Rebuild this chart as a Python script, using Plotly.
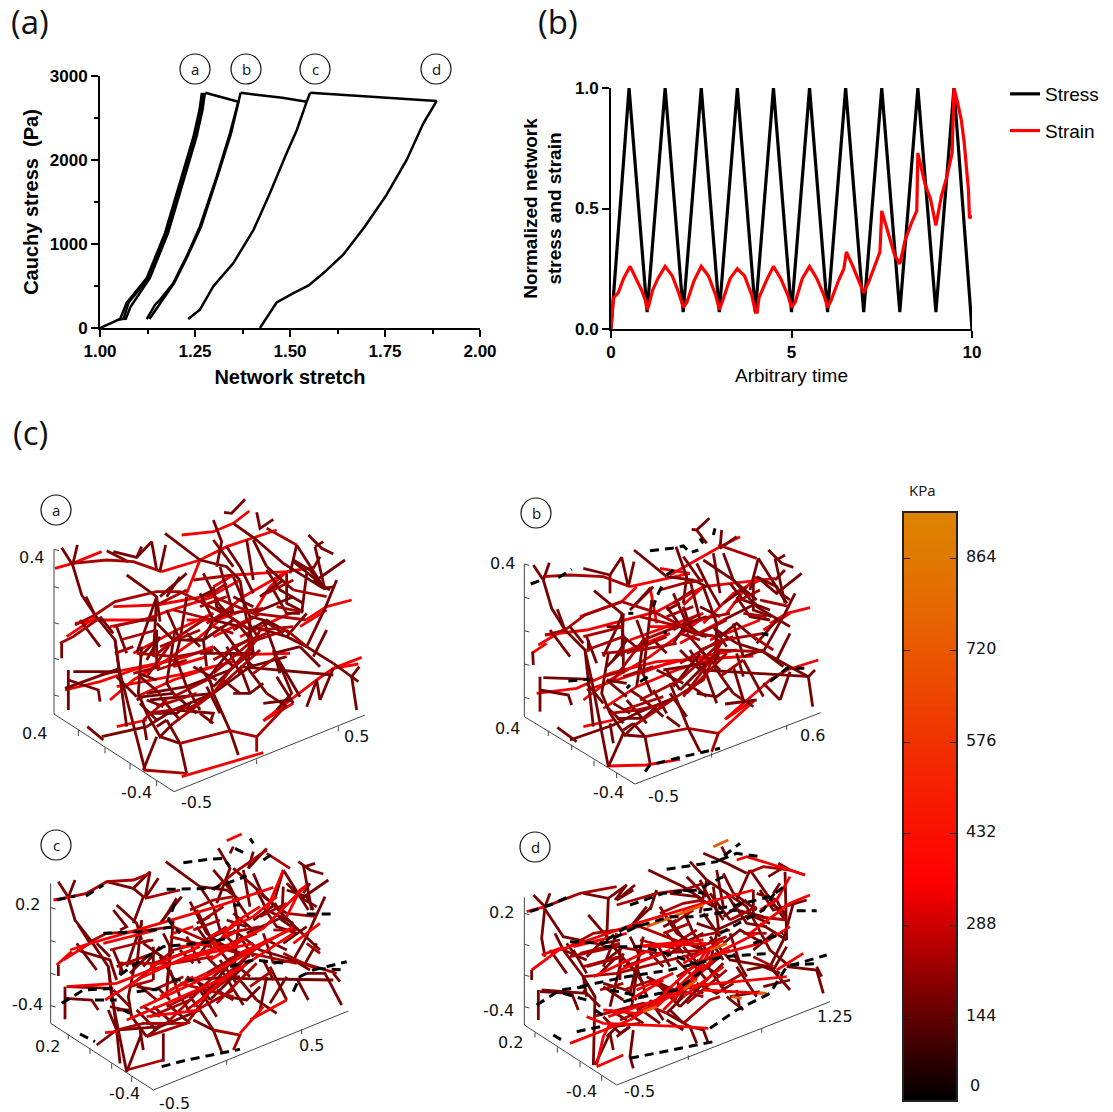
import numpy as np
import plotly.graph_objects as go

W, H = 1113, 1112
# ---------- panel (a) values ----------
A_UP_X = [1.0, 1.053, 1.07, 1.123, 1.171, 1.21, 1.246, 1.262, 1.268]
A_UP_Y = [0, 107, 300, 594, 1129, 1724, 2278, 2600, 2800]
A_MID_X = [1.05, 1.062, 1.075, 1.127, 1.175, 1.214, 1.25, 1.266, 1.272]
A_MID_Y = [100, 110, 300, 590, 1125, 1720, 2275, 2600, 2800]
A_DOWN_X = [1.276, 1.27, 1.254, 1.218, 1.179, 1.131, 1.08, 1.068, 1.055]
A_DOWN_Y = [2800, 2600, 2278, 1724, 1129, 594, 250, 110, 107]
HOLD1_X = [1.277, 1.33, 1.364]
HOLD1_Y = [2800, 2730, 2694]
B_X = [1.364, 1.342, 1.307, 1.263, 1.228, 1.193, 1.158, 1.145, 1.123]
B_Y = [2694, 2318, 1803, 1209, 852, 535, 337, 277, 107]
B2_X = [1.13, 1.15, 1.162, 1.195, 1.23, 1.266, 1.309, 1.345, 1.37]
B2_Y = [107, 240, 330, 535, 852, 1209, 1803, 2318, 2800]
HOLD2_X = [1.37, 1.48, 1.544]
HOLD2_Y = [2800, 2740, 2694]
C_X = [1.544, 1.518, 1.491, 1.447, 1.404, 1.351, 1.298, 1.263, 1.232]
C_Y = [2694, 2358, 2081, 1605, 1169, 773, 495, 218, 107]
C2_X = [1.544, 1.553]
C2_Y = [2694, 2800]
HOLD3_X = [1.553, 1.886]
HOLD3_Y = [2800, 2703]
D_X = [1.886, 1.851, 1.807, 1.754, 1.697, 1.64, 1.588, 1.549, 1.509, 1.465, 1.421]
D_Y = [2703, 2437, 2001, 1585, 1209, 872, 654, 507, 416, 305, 0]

# ---------- panel (b) values ----------
STRESS_T = [0, .5, 1, 1.5, 2, 2.5, 3, 3.5, 4, 4.5, 5, 5.5, 6, 6.5, 7, 7.5, 8, 8.5, 9, 9.5, 10]
STRESS_V = [0, 1, .07, 1, .07, 1, .07, 1, .07, 1, .07, 1, .07, 1, .07, 1, .07, 1, .07, 1, 0]
STRAIN_T = [0, .07, .2, .35, .53, .7, .85, .95, 1, 1.05, 1.15, 1.3, 1.5, 1.7, 1.9, 2, 2.1, 2.3, 2.5, 2.7, 2.9, 3, 3.1, 3.3, 3.5, 3.7, 3.9, 4, 4.05, 4.1, 4.3, 4.5, 4.7, 4.9, 5, 5.1, 5.3, 5.5, 5.7, 5.9, 6, 6.1, 6.3, 6.45, 6.52, 6.7, 6.9, 7, 7.15, 7.3, 7.45, 7.5, 7.7, 7.85, 8, 8.15, 8.35, 8.47, 8.5, 8.7, 8.85, 9, 9.15, 9.3, 9.45, 9.5, 9.6, 9.7, 9.78, 9.85, 9.9, 9.93, 10]
STRAIN_V = [0, .13, .15, .21, .26, .21, .16, .12, .08, .1, .16, .21, .26, .22, .14, .09, .11, .2, .26, .22, .14, .08, .12, .21, .25, .22, .14, .07, .07, .13, .2, .26, .21, .14, .09, .11, .21, .26, .21, .14, .09, .12, .2, .25, .32, .26, .19, .15, .2, .26, .32, .49, .39, .31, .27, .37, .45, .49, .73, .6, .54, .43, .55, .63, .73, 1, .94, .87, .78, .68, .58, .46, .47]

# ---------- panel (c) projected networks, in picture units of each sub-panel ----------
NA_DARK = [[185,203,218,255,232,195],[218,255,245,345,285,405,345,480,380,740],[345,480,358,570,435,870],[258,350,285,405],[320,212,385,245],[340,215,410,232,455,185,470,270],[410,232,425,200],[497,195,480,272],[495,160,600,240],[380,285,470,350,480,425],[735,58,695,100,672,97],[640,120,665,185,650,260],[770,97,780,145,820,118],[700,130,770,180,850,250,970,325],[925,165,965,205,1000,222],[945,200,970,185],[890,195,970,320],[945,200,975,330],[1035,240,950,300,880,245],[890,195,870,280],[1010,300,975,385,920,500,1000,550],[920,500,860,470,760,440],[1000,550,1055,590,1070,690],[1055,590,1075,605],[1055,590,1078,560],[1000,565,960,660],[970,325,1005,320],[920,280,905,400],[830,530,875,640,830,690],[700,290,750,410,745,560],[720,300,740,420],[610,280,655,370,690,410,750,450,760,520],[750,450,800,420,870,460],[205,570,205,690],[205,600,295,630,300,665],[185,490,185,535],[220,575,355,575],[195,625,360,565],[425,500,415,640,440,700,480,770,520,730],[470,350,460,530],[525,450,500,610],[480,770,540,790,560,880],[690,752,715,825],[690,752,640,640,630,600],[430,870,470,770],[262,740,310,780],[305,770,440,740,520,690,640,640],[640,640,750,560,860,530],[750,640,720,560],[790,670,870,660],[830,590,880,670],[720,560,1000,585],[530,690,640,700,630,730],[560,480,610,480,620,560],[610,480,700,420],[520,480,610,480],[450,660,640,640],[440,640,560,620,690,570],[410,660,430,650,520,640],[920,680,950,600,960,660],[600,520,760,520],
 [640,320,650,380,690,410],[660,260,700,400],[600,340,640,420,720,440],[720,440,745,470,760,520],[750,410,790,420,850,460],[560,350,540,480,520,560],[470,430,520,480],[470,350,410,520],[610,480,640,420],[640,420,700,390],[820,330,860,400,900,400],[860,280,860,370,910,395],[800,270,840,330,910,370],[940,300,990,330],[640,180,700,260],[600,240,680,260,720,300],[540,290,500,350],[560,280,480,350],[760,400,880,350],[780,350,850,300],[620,620,660,700],[700,640,750,640,790,610],[670,600,720,640],[820,510,840,580],[580,560,650,600],[500,610,520,640],[530,540,560,620],[350,590,410,650],[420,590,480,640],[440,540,480,470],[470,560,470,450],[415,580,470,600],[440,660,490,680],[420,670,470,720],[445,700,530,700,570,670],[470,740,500,720],[680,500,720,580],[700,500,760,560],[600,560,640,620],[620,600,700,500],[640,620,760,500],
 [860,470,920,400],[820,520,900,500],[830,530,900,650],[790,420,830,530],[740,560,800,640],[800,640,860,680],[900,500,960,560],[940,530,980,450],[880,240,930,270,970,320],[760,180,800,260],[800,260,880,330],[940,265,960,230],[680,200,720,260,760,340],[740,180,760,300],[600,350,640,330],[500,390,540,480],[470,480,420,530],[420,420,470,420],[350,440,380,520],[300,410,340,460],[240,420,300,500],[560,620,600,690],[520,640,590,700],[480,650,540,720],[600,700,640,730],[430,720,440,780],[500,720,540,790],[640,500,700,560],[560,460,600,500],[700,350,760,380],[740,420,780,480],[660,440,720,520]]
NA_MID = [[218,250,320,240,400,245,485,275],[285,405,345,365,470,335,540,335,580,355,680,405,750,450],[800,145,890,195],[225,435,285,405],[470,375,560,330],[640,350,760,400,920,420],[690,570,740,530,780,450,880,440],[640,640,690,570,770,480,860,450],[560,690,640,640],[440,700,520,690,570,680],[520,730,640,640],[440,590,520,480,610,420],[460,530,510,490],[410,520,530,530,640,510],[345,520,400,500],[180,490,220,470,290,420],[430,720,500,660],[540,790,690,752,770,770,770,815],[770,770,855,680],[430,870,560,880],
 [640,580,760,480],[660,620,780,510],[470,570,560,540],[360,480,470,450],[520,390,640,420],[640,440,700,460],[760,580,830,530],[860,450,920,500],[700,450,780,400],[690,400,790,385],[830,380,900,395],[580,300,650,290,700,285],[620,350,680,310],
 [620,430,700,380],[700,500,800,460],[640,540,760,470],[520,650,640,590],[470,680,590,640],[600,380,680,350],[800,340,880,300],[880,330,980,350],[340,440,470,410],[480,500,600,450],[400,580,480,560]]
NA_RED = [[165,265,218,250,305,215],[485,275,600,240,680,200,830,150],[545,165,640,155,700,130,748,93],[600,240,560,340],[640,320,700,285,860,275,940,262],[340,380,470,375,640,345,720,300],[225,430,290,420,460,420],[200,470,290,410],[920,418,980,380,1055,360],[1085,532,1000,565,950,600,790,722],[1075,552,1000,565],[330,660,400,600,500,540,600,470,660,420],[300,585,420,560,520,540],[195,630,300,605,400,570,560,530,640,500],[350,620,560,580,640,560,700,545],[410,650,520,600,640,560],[545,890,790,818],[700,525,870,520],[630,430,730,350,860,275],[760,400,810,320,860,275],[330,440,430,420,500,395,640,350],[400,520,530,450,640,400],[880,670,790,722],[350,740,440,720],
 [560,420,650,420,720,395],[600,420,640,400],[720,470,870,400],[640,470,760,410],[520,560,620,530],[900,440,980,390]]
NA_ORANGE = []
NA_BLACK = []

NB_DARK = [[190,255,220,300,238,248],[220,300,245,385,285,450,345,510,370,740],[345,510,365,600,415,860],[262,388,285,450],[340,265,420,285,455,232,475,320],[420,285,420,340],[492,245,475,320],[492,210,590,290],[372,332,455,400,460,480],[718,115,680,150,665,148],[680,150,710,190],[618,200,650,290,640,370],[755,150,750,205,800,170],[700,240,790,300,860,380,960,440],[895,210,935,250,970,262],[920,240,945,225],[865,235,950,370],[915,235,945,370],[995,280,920,340,860,290],[865,235,840,330],[975,340,945,400,880,515,950,555],[880,515,800,490,740,450],[950,555,1015,590,1028,680],[1015,590,1035,570],[960,575,930,660],[700,320,740,430,735,570],[610,340,650,430,680,460,740,470,745,540],[210,590,210,695],[210,630,295,645,305,675],[188,515,190,555],[220,593,370,598],[355,480,355,515],[415,520,395,640,420,700,465,765,495,735],[460,400,455,530],[520,480,500,620],[465,765,525,770,540,850],[655,745,690,815],[655,745,620,660,600,610],[415,860,460,760],[262,742,320,785],[300,780,430,735,500,700,620,650],[740,670,705,570],[880,610,930,660],[580,570,740,545],[700,570,1020,590],[790,560,820,660],[765,672,860,660],
 [640,380,660,440,700,470],[660,300,690,420],[590,380,640,450,710,470],[750,470,800,430,860,480],[545,360,530,500,520,580],[460,470,510,510],[460,400,400,530],[610,490,650,430],[650,430,710,410],[800,350,840,410,900,420],[850,310,850,390,905,410],[780,310,820,360,900,390],[920,330,960,360],[640,230,690,300],[590,290,670,300,710,320],[540,325,490,380],[550,320,480,390],[760,420,860,370],[760,370,830,320],[600,640,650,710],[680,640,740,650,780,620],[650,610,710,650],[800,520,820,590],[560,570,640,610],[480,630,510,650],[510,560,545,640],[350,610,400,670],[410,600,470,650],[430,540,470,480],[460,580,460,470],[410,600,470,610],[430,670,480,700],[410,680,460,730],[440,715,520,715,560,680],[460,750,490,730],[660,510,710,590],[690,510,750,570],[590,570,630,630],[610,620,690,520],[630,630,750,510],
 [860,490,920,420],[820,530,880,510],[820,540,880,650],[790,430,820,530],[740,570,790,640],[790,640,850,680],[880,515,940,560],[920,540,960,460],[860,290,920,320,950,370],[760,220,790,300],[790,300,860,360],[915,300,945,270],[680,250,710,310,750,380],[730,220,750,340],[590,390,630,370],[500,420,530,500],[460,510,410,560],[410,440,460,440],[350,470,380,550],[300,440,340,490],[240,450,300,530],[550,630,590,700],[510,650,580,710],[470,660,530,730],[590,710,630,740],[420,730,430,790],[490,730,525,770],[630,510,690,570],[550,480,590,520],[690,380,750,410],[730,440,770,500],[650,460,710,530]]
NB_MID = [[220,290,300,285,400,290,480,320],[285,450,345,405,455,365,550,395,680,460,740,470],[225,465,285,450],[640,650,700,570,760,480,880,460],[620,650,700,600,740,510,880,515],[560,690,620,650],[420,700,500,690,590,670],[495,735,620,650],[430,600,520,480,620,440],[395,520,510,510,620,490],[745,195,860,235],[525,770,655,745,745,760,725,815],
 [630,600,750,490],[650,640,770,520],[460,590,550,560],[350,510,460,470],[510,410,630,440],[630,460,690,480],[750,590,820,540],[850,470,910,510],[690,460,770,420],[680,420,780,400],[820,400,890,410],[570,330,640,310,700,300],[610,370,670,330],
 [610,450,690,400],[690,510,790,470],[630,550,750,480],[510,660,630,600],[460,690,580,650],[590,410,670,380],[790,370,870,330],[870,360,960,380],[340,470,460,440],[470,520,590,470],[400,590,470,570]]
NB_RED = [[480,320,660,280],[570,265,660,280],[600,285,700,230,750,200,810,170],[640,375,700,320,915,295],[330,410,455,365,500,320],[225,465,350,450,560,395,700,320],[205,495,290,445],[185,520,230,490],[900,430,950,400,1020,383],[1045,540,950,570,900,600,765,718],[340,660,420,600,540,530,660,440,690,420],[200,640,320,625,420,580,560,545,850,528],[350,630,560,560,640,540,800,510],[400,685,500,620,620,570,720,540],[415,858,530,855,630,838],[700,430,790,340,870,300],[770,400,830,320,860,290],[480,480,620,430,700,400],[850,660,770,715],[340,740,430,720],[540,320,560,430],[745,760,855,660],[900,600,950,570],
 [540,440,640,440,720,410],[720,480,870,420],[630,490,760,420],[510,580,620,540],[880,450,960,400],[450,520,600,460]]
NB_ORANGE = []
NB_BLACK = [[540,212,605,205,640,198,660,218,685,210],[690,175,700,190],[735,145,730,165],[575,320,560,350,550,380],[475,400,490,400],[875,460,895,465],[295,603,360,597],[510,605,535,590],[470,625,480,615],[900,605,950,565,1020,565],[525,875,540,855,640,830,750,805],[590,285,610,270],[580,455,590,460],[182,312,220,298],[265,293,305,268]]

NC_DARK = [[175,215,205,262,225,210],[205,262,225,330,275,395,325,470,350,660],[325,470,335,560,380,785],[235,345,270,400],[320,215,400,235,450,185,435,265],[400,235,430,260,400,340],[475,205,435,265],[497,155,600,230,640,290],[350,285,410,340,425,390],[690,130,700,110],[655,115,690,175,650,280],[760,125,745,175,800,115],[700,175,790,255,880,345,960,420],[895,155,930,180,970,192],[915,170,945,160],[850,180,925,300],[910,165,935,300],[985,210,905,265,860,220],[850,180,825,265],[975,260,920,380,880,450,950,475],[880,450,780,420,700,360],[920,490,975,490,1025,585],[1000,490,1020,515],[890,505,925,570],[700,265,715,350,700,500],[570,275,620,370,660,400,720,430],[195,530,195,628],[195,565,275,570,295,600],[175,465,175,498],[200,530,340,535],[365,455,360,495],[405,460,385,560,395,620,440,680],[425,330,410,470],[510,400,500,560],[490,670,490,755],[640,660,665,725],[640,660,600,600,570,560],[380,785,425,670],[290,705,350,660,480,650,600,600],[730,585,680,505],[810,580,860,500],[555,510,720,500],[680,505,1000,510],[800,500,780,600],[350,600,390,600],[325,600,350,660,360,760],[330,590,375,600],
 [640,290,660,360,700,400],[590,300,640,400,720,430],[750,430,800,390,860,420],[520,330,510,450,500,530],[430,400,500,450],[425,340,380,470],[600,430,640,380],[640,380,700,350],[790,290,830,350,890,370],[850,230,845,330,890,360],[770,240,800,300,880,340],[905,265,950,290],[640,180,700,250],[600,230,680,240,720,270],[530,265,490,330],[545,260,480,340],[740,370,850,320],[760,330,830,280],[600,540,650,620],[680,560,740,570,780,530],[650,540,700,570],[790,450,820,510],[560,500,640,540],[480,540,510,570],[510,480,540,560],[340,540,390,590],[410,520,470,570],[430,470,480,410],[460,510,460,410],[410,530,470,540],[430,590,480,620],[410,600,460,650],[440,640,520,640],[460,660,490,640],[660,450,710,520],[690,450,750,500],[590,510,630,570],[610,560,690,460],[630,570,750,450],[560,380,600,460],[590,350,640,420],[480,440,530,520],[230,420,330,450,350,510],[340,300,380,350,360,360],[700,310,760,360],
 [850,400,920,350],[820,460,880,450],[810,470,860,570],[790,370,820,460],[720,510,770,570],[770,570,830,610],[880,450,930,480],[910,470,950,400],[860,240,920,260,940,300],[760,190,790,260],[790,260,860,310],[910,250,930,220],[680,210,710,270,750,330],[730,180,750,290],[590,340,630,320],[490,370,520,430],[440,440,390,490],[410,400,460,390],[340,420,370,490],[290,400,330,440],[230,400,290,480],[540,560,580,620],[500,580,570,640],[460,590,520,640],[580,630,640,660],[420,660,430,720],[480,650,440,680],[620,440,680,500],[540,420,580,460],[680,330,740,350],[720,380,760,440],[640,400,700,470]]
NC_MID = [[205,262,260,250,320,215,400,210,450,190],[435,265,540,240],[270,395,320,370,410,365,520,350,680,420,750,440],[800,130,870,175],[640,240,700,190,800,120],[920,400,960,430],[350,660,430,640,560,640],[640,500,720,430,790,400],[560,600,680,510,750,430,890,460],[440,680,560,640,620,560],[400,520,520,420,640,390],[380,780,490,750],[500,640,640,500],[880,450,1010,490],[360,460,520,460,640,440],[640,660,720,675,700,720],
 [630,540,750,430],[650,580,770,460],[460,540,550,500],[350,470,460,430],[510,380,630,410],[750,530,820,480],[850,430,910,460],[690,400,770,370],[680,370,780,350],[820,360,890,360],[570,300,640,270,700,260],[610,330,670,290],[540,520,700,560],[590,600,700,540],
 [600,400,680,350],[680,450,780,410],[620,490,740,420],[500,590,620,530],[450,620,570,570],[580,360,660,330],[780,320,860,280],[860,310,950,320],[330,420,450,390],[460,460,580,420],[390,530,460,510]]
NC_RED = [[160,270,205,262],[680,92,725,72],[210,420,270,400,480,340,650,290,820,232],[190,450,270,400],[170,465,215,425],[315,570,430,500,560,440,700,400,790,355,920,225],[200,530,350,520,450,480,620,430,760,400],[380,630,500,580,680,500,880,370],[420,595,600,510,760,420,880,350],[750,630,860,570],[630,380,760,320,830,260],[440,620,600,600],[720,670,790,590],[860,320,900,240,915,230],[315,668,350,665],[620,440,700,340,780,290],[520,370,580,350],[800,300,850,180],
 [540,410,640,400,720,360],[720,430,870,360],[630,450,760,370],[510,540,620,490],[880,400,960,340],[450,470,600,410],[480,560,580,500],[580,590,700,480],[310,400,470,360]]
NC_ORANGE = []
NC_BLACK = [[550,158,625,148,670,145,690,170],[705,115,735,130,745,125],[750,85,760,100],[790,150,820,130],[258,258,310,225],[170,270,225,258],[500,238,640,235,740,198],[525,280,505,330,540,370],[310,370,430,365,520,350],[360,495,410,460,490,410,640,395,680,385],[700,285,720,285],[920,312,1000,312],[690,470,760,450,860,460],[880,545,900,500,940,480,1040,455],[950,475,1030,480],[185,580,250,540,350,535],[285,570,350,570],[410,545,490,535],[515,510,580,510],[370,600,390,610],[485,770,560,750,720,718],[240,672,285,695]]

ND_DARK = [[190,255,225,290,240,250],[225,290,215,385,225,440],[255,370,280,420,340,500,375,560,370,765],[220,290,280,380,400,405],[355,315,415,385],[340,250,415,265,470,225,435,270],[415,265,410,390],[495,225,440,270,490,240],[535,180,640,230,700,270],[560,240,540,300],[700,130,770,160,830,190],[660,155,710,210,690,310],[755,110,770,140],[710,210,830,290,900,420,960,470],[925,160,960,180,1005,195],[895,200,945,170],[840,180,945,330],[945,185,950,390],[1010,270,910,300,870,240],[840,180,800,270],[970,280,940,390,900,470,960,540],[900,470,780,450,720,380],[950,470,1040,480,1060,550],[1040,470,1055,500],[880,530,960,510],[730,230,745,350,715,480],[570,290,620,370,700,420],[205,540,205,630],[210,545,305,550,325,600],[185,480,185,510],[215,540,350,550],[460,430,420,590],[510,420,485,590],[490,660,480,740,490,775],[590,610,660,650,700,660,715,700],[660,650,680,700],[590,610,640,560,620,510],[375,765,420,670],[410,680,440,650],[640,640,600,600],[800,540,810,600],[780,560,870,545],
 [640,300,670,370,710,420],[700,310,750,380],[600,330,650,400,720,430],[760,400,810,360,880,400],[520,380,500,470,480,550],[430,410,490,480],[440,370,400,470],[590,440,640,400],[640,400,700,370],[790,280,830,340,890,350],[850,240,850,320,900,340],[770,250,800,300,880,320],[900,280,950,310],[650,200,710,260],[600,250,680,260,730,290],[530,290,490,340],[545,290,480,350],[740,360,850,310],[760,320,830,270],[560,510,620,570],[680,520,740,550,790,520],[650,530,700,550],[790,430,830,500],[530,500,610,540],[470,540,500,570],[500,470,530,560],[340,540,390,590],[400,530,460,570],[410,450,460,410],[450,510,450,420],[400,520,470,540],[420,600,470,630],[400,620,450,670],[430,650,510,640],[450,670,480,650],[650,440,710,510],[680,450,750,500],[560,520,630,590],[620,580,690,470],[630,590,760,460],[560,400,600,470],[590,370,640,430],[470,450,520,520],[340,500,350,560],[280,420,350,450],[350,440,400,390],[720,250,780,330],[870,340,950,390],
 [850,420,910,370],[830,480,880,470],[800,470,860,560],[780,370,810,460],[720,480,770,550],[770,560,820,600],[880,470,930,490],[910,480,950,410],[860,250,920,270,945,320],[760,190,790,250],[790,250,860,300],[910,250,930,220],[690,210,720,270,760,330],[740,180,760,290],[580,350,620,330],[480,380,510,440],[440,440,390,490],[400,400,450,390],[310,420,350,490],[290,400,320,440],[240,420,290,490],[540,570,580,630],[500,590,570,640],[460,600,520,640],[590,630,640,660],[420,670,430,720],[480,650,440,680],[620,450,680,510],[540,430,580,470],[680,340,740,360],[720,390,760,450],[640,410,700,480]]
ND_MID = [[225,290,330,250,440,230],[440,285,560,250,640,240,700,220],[280,420,370,370,510,350,640,400],[300,440,440,410,560,430,720,420],[340,500,440,490,640,440,720,420],[340,470,450,440],[370,620,520,580,590,610],[830,190,880,170,960,180],[640,640,720,570,750,560],
 [630,540,750,440],[650,580,770,480],[460,540,550,510],[350,470,460,440],[510,390,630,420],[750,530,820,490],[850,440,910,470],[690,410,770,380],[680,380,780,360],[820,370,890,370],[570,310,640,280,700,270],[610,340,670,300],[540,520,700,560],
 [600,410,680,360],[680,460,780,420],[620,500,740,430],[500,600,620,540],[450,630,570,580],[580,370,660,340],[780,330,860,290],[860,320,950,330],[330,430,450,400],[460,470,580,430],[390,540,460,520]]
ND_RED = [[170,305,225,290],[270,420,500,340,700,280,850,240],[185,480,280,410],[490,410,700,390],[215,435,270,415],[370,500,560,410,710,400],[400,600,500,610,660,530,720,420],[480,630,650,520,760,420,860,370],[415,620,560,570,690,450,710,420],[300,700,400,660,480,630],[350,620,400,640,640,650,715,655],[640,530,790,515,950,500],[700,540,880,550],[840,370,960,280,1020,255],[870,300,920,270,960,200],[800,150,830,140,960,180,1005,195],[920,480,1000,430],[380,770,460,735],[380,765,400,680,420,640],
 [520,410,620,400],[720,440,870,400],[640,460,760,390],[500,540,610,490],[880,400,960,350],[450,480,600,420],[480,570,580,510],[580,600,700,480],[310,410,470,370],[640,560,760,470],[560,590,700,460]]
ND_ORANGE = [[730,110,775,90],[520,605,560,590],[640,540,680,510],[785,560,815,565],[865,548,890,550],[720,420,770,400],[530,350,700,285]]
ND_BLACK = [[590,178,670,165,740,155,810,100],[750,150,800,130,870,140],[180,305,240,285,300,258],[480,285,580,250,680,240,760,200],[700,300,780,290,900,260,950,225],[980,302,1040,302],[300,395,400,400,500,350,600,320,680,320,800,300],[400,410,520,410,620,440,700,470],[330,530,470,500,600,480,760,440,900,430],[420,540,520,560,620,540,700,480],[200,585,270,540,350,530],[280,550,350,570],[375,600,405,620],[250,675,275,690],[320,665,390,650],[480,745,600,720,730,695],[720,655,800,600,900,550,950,470,1070,435],[960,465,1050,460],[750,370,880,300,920,240],[850,400,940,370],[460,575,520,560],[410,390,470,350,520,345],[640,240,700,250]]

# 3-D box edges drawn in each sub-panel, and their ticks
FRAME_A = [[162,208,162,702,522,935,1095,705],[162,208,177,212],[162,320,177,324],[162,428,177,432],[162,535,177,539],[162,645,177,649],[235,750,235,768],[315,802,315,820],[390,850,390,868],[470,900,470,918],[770,838,770,852],[1015,740,1015,754]]
FRAME_B = [[163,252,163,710,495,912,1052,698],[163,252,178,256],[163,352,178,356],[163,452,178,456],[163,552,178,556],[163,652,178,656],[235,752,235,768],[305,794,305,810],[372,842,372,858],[440,878,440,894],[725,818,725,832],[950,735,950,749]]
FRAME_C = [[152,220,152,640,460,840,1045,603],[152,293,167,297],[152,392,167,396],[152,490,167,494],[152,587,167,591],[205,672,205,688],[270,716,270,732],[335,760,335,776],[395,800,395,816],[680,750,680,764],[905,658,905,672]]
FRAME_D = [[163,262,163,645,440,825,1080,575],[163,310,178,314],[163,403,178,407],[163,495,178,499],[163,590,178,594],[195,668,195,682],[262,712,262,728],[330,756,330,772],[395,796,395,812],[655,736,655,750],[875,654,875,668]]

COLORBAR_TICKS = [144, 288, 432, 576, 720, 864]
COLORBAR_LOW, COLORBAR_HIGH = 14, 936
COLORSCALE = [[0, '#000000'], [.37, '#ff0000'], [.5, '#f81800'], [.65, '#ee3c00'], [.8, '#e86000'], [.92, '#e07800'], [1, '#dd8400']]

# ---------- helpers ----------
def px(x, y):
    return x / W, 1 - y / H

def dom(a, b, total):
    return [a / total, b / total]

def ydom(top, bottom):
    return [1 - bottom / H, 1 - top / H]

def split(polys):
    xs, ys = [], []
    for p in polys:
        xs += p[0::2] + [None]
        ys += p[1::2] + [None]
    return xs, ys

fig = go.Figure()
ann, shp = [], []

def text(x, y, s, size, family='DejaVu Sans', color='#111', xanchor='center'):
    ax, ay = px(x, y)
    ann.append(dict(x=ax, y=ay, xref='paper', yref='paper', text=s, showarrow=False,
                    font=dict(size=size, family=family, color=color), xanchor=xanchor, yanchor='middle'))

def circle(cx, cy, s):
    x0, y0 = px(cx - 15, cy - 15)
    x1, y1 = px(cx + 15, cy + 15)
    shp.append(dict(type='circle', xref='paper', yref='paper', x0=x0, x1=x1, y0=y1, y1=y0,
                    line=dict(color='#111', width=1.2)))
    text(cx, cy, s, 15, 'Open Sans')

# ---------- (a) ----------
BOLD = 'Liberation Sans'
def curve(x, y, ax='x', ay='y', color='black', width=2.5):
    fig.add_trace(go.Scatter(x=x, y=y, mode='lines', xaxis=ax, yaxis=ay, showlegend=False, cliponaxis=False,
                             line=dict(color=color, width=width), hoverinfo='skip'))

for cx, cy in [(A_UP_X, A_UP_Y), (A_MID_X, A_MID_Y), (A_DOWN_X, A_DOWN_Y), (HOLD1_X, HOLD1_Y), (B_X, B_Y), (B2_X, B2_Y),
               (HOLD2_X, HOLD2_Y), (C_X, C_Y), (C2_X, C2_Y), (HOLD3_X, HOLD3_Y), (D_X, D_Y)]:
    curve(cx, cy)

axis_common = dict(showgrid=False, zeroline=False, showline=True, linecolor='black', linewidth=2, automargin=False,
                   ticks='outside', tickcolor='black', tickwidth=2, ticklen=7)
fig.update_layout(
    xaxis=dict(domain=dom(100, 480, W), range=[1, 2], tickvals=[1, 1.25, 1.5, 1.75, 2], tickformat='.2f',
               minor=dict(tickvals=[1.125, 1.375, 1.625, 1.875], ticks='outside', ticklen=4, tickwidth=2, tickcolor='black'),
               tickfont=dict(family=BOLD, size=17, color='black', weight='bold'),
               title=dict(text='<b>Network stretch</b>', font=dict(family=BOLD, size=20, color='black'), standoff=10),
               anchor='y', **axis_common),
    yaxis=dict(domain=ydom(76, 328), range=[0, 3000], tickvals=[0, 1000, 2000, 3000],
               minor=dict(tickvals=[500, 1500, 2500], ticks='outside', ticklen=4, tickwidth=2, tickcolor='black'),
               tickfont=dict(family=BOLD, size=17, color='black', weight='bold'),
               title=dict(text='<b>Cauchy stress\u00a0\u00a0(Pa)</b>', font=dict(family=BOLD, size=20, color='black'), standoff=6),
               anchor='x', **axis_common),
)

# ---------- (b) ----------
fig.add_trace(go.Scatter(x=STRESS_T, y=STRESS_V, mode='lines', name='Stress', xaxis='x2', yaxis='y2', legendgroup='s1',
                         line=dict(color='black', width=3.2), hoverinfo='skip'))
fig.add_trace(go.Scatter(x=STRAIN_T, y=STRAIN_V, mode='lines', name='Strain', xaxis='x2', yaxis='y2', legendgroup='s2',
                         line=dict(color='#ff0000', width=3.2), hoverinfo='skip'))
fig.update_layout(
    xaxis2=dict(domain=dom(611, 972, W), range=[0, 10], tickvals=[0, 5, 10],
                tickfont=dict(family=BOLD, size=17, color='black', weight='bold'),
                title=dict(text='Arbitrary time', font=dict(family=BOLD, size=19, color='black'), standoff=7),
                anchor='y2', **axis_common),
    yaxis2=dict(domain=ydom(88, 329), range=[0, 1], tickvals=[0, .5, 1], tickformat='.1f',
                tickfont=dict(family=BOLD, size=17, color='black', weight='bold'),
                title=dict(text='<b>Normalized network<br>stress and strain</b>', font=dict(family=BOLD, size=19, color='black'), standoff=8),
                anchor='x2', **axis_common),
    legend=dict(x=1005 / W, y=1 - 75 / H, xanchor='left', yanchor='top', tracegroupgap=9, itemwidth=30,
                font=dict(family=BOLD, size=19, color='black'), bgcolor='rgba(0,0,0,0)'),
)

# ---------- (c) networks ----------
panels = [
    (3, 0, 480, 330, FRAME_A, NA_DARK, NA_MID, NA_RED, NA_ORANGE, NA_BLACK, 'rdm'),
    (4, 470, 480, 330, FRAME_B, NB_DARK, NB_MID, NB_RED, NB_ORANGE, NB_BLACK, 'rdm'),
    (5, 0, 810, 302, FRAME_C, NC_DARK, NC_MID, NC_RED, NC_ORANGE, NC_BLACK, 'dmr'),
    (6, 470, 810, 302, FRAME_D, ND_DARK, ND_MID, ND_RED, ND_ORANGE, ND_BLACK, 'dmr'),
]
for n, ox, oy, hh, frame, dark, mid, red, orange, black, order in panels:
    ax, ay = f'x{n}', f'y{n}'
    fig.update_layout({f'xaxis{n}': dict(domain=dom(ox, ox + 380, W), range=[0, 1140], visible=False, anchor=ay, automargin=False),
                       f'yaxis{n}': dict(domain=ydom(oy, oy + hh), range=[hh * 3, 0], visible=False, anchor=ax, automargin=False)})
    fx, fy = split(frame)
    curve(fx, fy, ax, ay, '#444444', 1)
    classes = {'d': (dark, '#780000'), 'm': (mid, '#a80000'), 'r': (red, '#f40000')}
    for group, color in [classes[k] for k in order] + [(orange, '#e85a00')]:
        if group:
            gx, gy = split(group)
            curve(gx, gy, ax, ay, color, 2.8)
    if black:
        gx, gy = split(black)
        fig.add_trace(go.Scatter(x=gx, y=gy, mode='lines', xaxis=ax, yaxis=ay, showlegend=False, hoverinfo='skip',
                                 line=dict(color='black', width=3, dash='9px,6px')))

# sub-panel tick labels
LABELS = [
    (0, 480, [(95, 232, '0.4'), (103, 760, '0.4'), (410, 938, '-0.4'), (590, 968, '-0.5'), (1070, 768, '0.5')]),
    (470, 480, [(97, 250, '0.4'), (113, 745, '0.4'), (415, 938, '-0.4'), (580, 948, '-0.5'), (1027, 765, '0.6')]),
    (0, 810, [(82, 282, '0.2'), (143, 708, '0.2'), (373, 850, '-0.4'), (522, 880, '-0.5'), (935, 705, '0.5'), (82, 582, '-0.4')]),
    (470, 810, [(95, 307, '0.2'), (122, 698, '0.2'), (335, 845, '-0.4'), (507, 845, '-0.5'), (1095, 620, '1.25'), (85, 600, '-0.4')]),
]
for ox, oy, items in LABELS:
    for x, y, s in items:
        text(ox + x / 3, oy + y / 3, s, 16)

# ---------- colour bar ----------
ramp = np.linspace(COLORBAR_LOW, COLORBAR_HIGH, 200)
fig.add_trace(go.Heatmap(z=[[v] for v in ramp], y=ramp, x=[0], xaxis='x7', yaxis='y7', colorscale=COLORSCALE,
                         zmin=COLORBAR_LOW, zmax=COLORBAR_HIGH, showscale=False, hoverinfo='skip'))
fig.update_layout(
    xaxis7=dict(domain=dom(904, 956, W), range=[-.5, .5], showticklabels=False, ticks='', showgrid=False, zeroline=False,
                showline=True, linecolor='#222', linewidth=1.5, mirror=True, anchor='y7', automargin=False),
    yaxis7=dict(domain=ydom(513, 1100), range=[COLORBAR_LOW, COLORBAR_HIGH], side='right', tickvals=COLORBAR_TICKS,
                ticks='inside', ticklen=6, tickcolor='#222', tickwidth=1.2, mirror='ticks', showgrid=False, zeroline=False,
                showline=True, linecolor='#222', linewidth=1.5, anchor='x7', ticklabelstandoff=5, ticklabelshift=-2, automargin=False,
                tickfont=dict(family='DejaVu Sans', size=16, color='#111')),
)
text(975, 1085, '0', 16)
text(922, 490, 'KPa', 15, 'Open Sans')

# ---------- letters ----------
for x, y, s in [(30, 22, '(a)'), (558, 22, '(b)'), (30, 432, '(c)')]:
    text(x, y, s, 33, 'Open Sans')
for x, y, s in [(195, 69, 'a'), (246, 69, 'b'), (315, 69, 'c'), (436, 69, 'd'),
                (56, 510, 'a'), (536, 513, 'b'), (56, 845, 'c'), (535, 847, 'd')]:
    circle(x, y, s)

fig.update_layout(width=W, height=H, margin=dict(l=0, r=0, t=0, b=0, pad=0, autoexpand=False), plot_bgcolor='white', paper_bgcolor='white',
                  showlegend=True, annotations=ann, shapes=shp)
fig.write_html("out.html", config={'displayModeBar': False}, post_script="document.body.style.margin='0';")
